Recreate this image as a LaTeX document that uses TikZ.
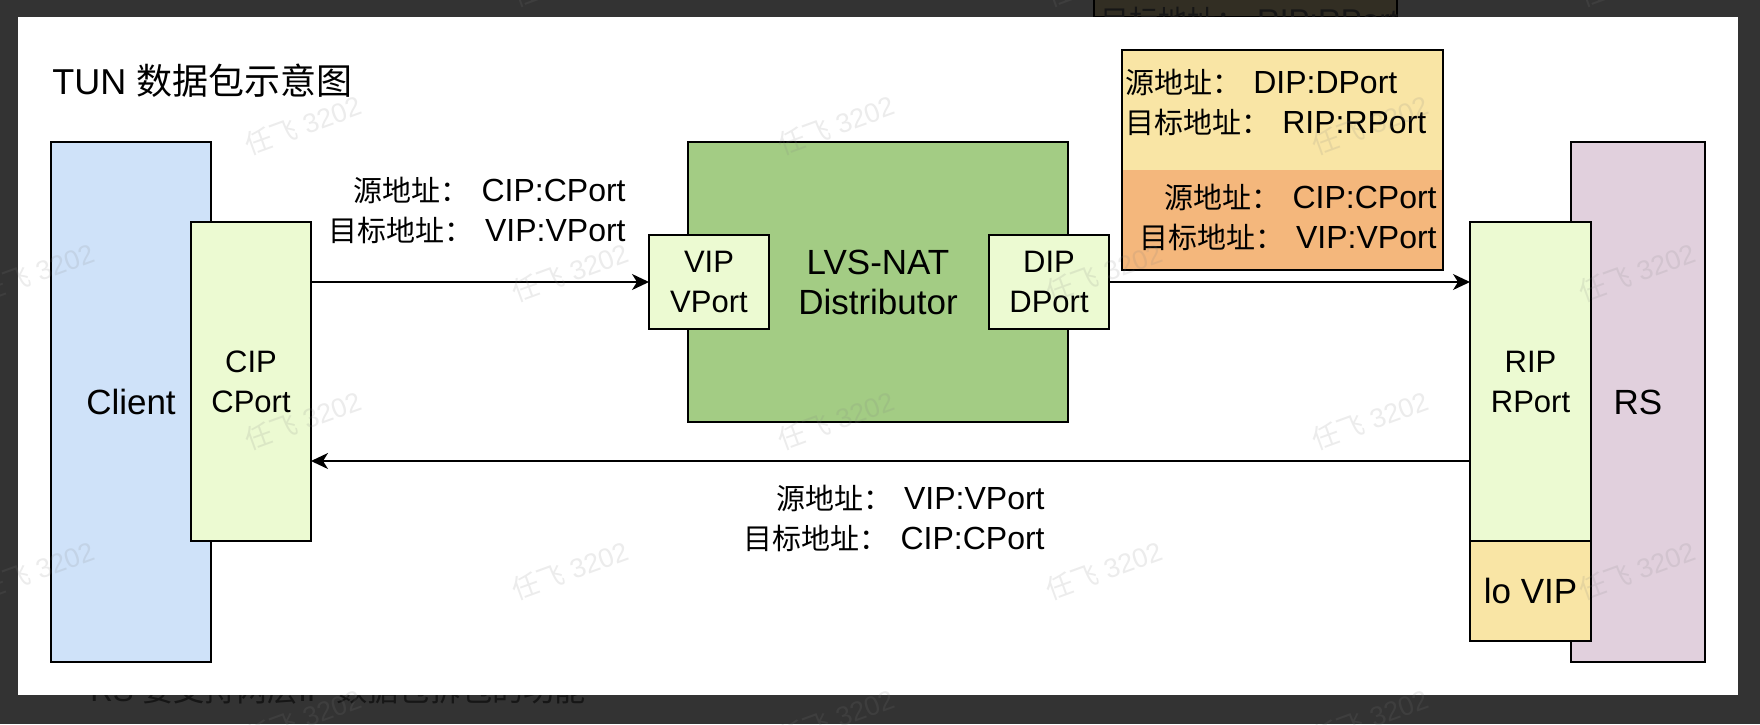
\documentclass[tikz,border=0pt]{standalone}
\usepackage{fontspec}
\setmainfont{Liberation Sans}
\newfontfamily\cjkfont{Noto Sans CJK SC}
\newcommand{\zh}[1]{{\cjkfont #1}}
\newcommand{\za}[1]{{\cjkfont\fontsize{14.5pt}{20pt}\selectfont #1}\hspace{1.5pt}}
\usetikzlibrary{arrows.meta}

\definecolor{clientblue}{RGB}{207,226,249}
\definecolor{portgreen}{RGB}{236,250,210}
\definecolor{lvsgreen}{RGB}{163,204,132}
\definecolor{rspurple}{RGB}{225,208,221}
\definecolor{hdryellow}{RGB}{249,229,165}
\definecolor{hdrorange}{RGB}{244,183,124}
\definecolor{darkframe}{RGB}{51,51,51}
\definecolor{dimyellow}{RGB}{50,46,35}
\definecolor{dimtext}{RGB}{22,22,22}

\begin{document}
\begin{tikzpicture}[
  x=0.5pt,y=-0.5pt,
  box/.style={draw=black, line width=1.1pt, inner sep=0pt, outer sep=0pt,
              align=center, font=\fontsize{17.5pt}{20pt}\selectfont},
  host/.style={box, fill=clientblue},
  iface/.style={box, fill=portgreen, minimum width=60pt,
                font=\fontsize{15.5pt}{20pt}\selectfont},
  dist/.style={box, fill=lvsgreen},
  server/.style={box, fill=rspurple},
  loif/.style={box, fill=hdryellow},
  flow/.style={-{Stealth[length=8.5pt,width=8pt,inset=2.5pt]}, line width=0.85pt},
  addr/.style={inner sep=0pt, font=\fontsize{16pt}{20pt}\selectfont},
  ghost/.style={inner sep=0pt, text=dimtext},
  wmark/.style={inner sep=0pt, rotate=20, text=gray, text opacity=0.15,
                font=\fontsize{13.5pt}{14pt}\selectfont}
]
  % screenshot frame
  \useasboundingbox (0,0) rectangle (1760,724);
  \fill[darkframe] (0,0) rectangle (1760,724);
  \node[draw=black, line width=1.1pt, fill=dimyellow, outer sep=0pt,
        minimum width=151.5pt, minimum height=20pt] (ghostbox) at (1245.5,-3) {};
  \node[ghost, anchor=base west, font=\fontsize{15.7pt}{20pt}\selectfont]
    (ghosttop) at (1100,31) {\za{目标地址：} RIP:RPort};
  \node[ghost, anchor=base west, font=\fontsize{15.6pt}{18pt}\selectfont]
    (bullet) at (56,701) {•};
  \node[ghost, anchor=base west, font=\fontsize{15.6pt}{18pt}\selectfont]
    (ghostbottom) at (90,701) {RS \zh{要支持两层}IP \zh{数据包拆包的功能}};
  \fill[white] (18,17) rectangle (1738,695);

  \node[anchor=base west, inner sep=0pt, font=\fontsize{18pt}{20pt}\selectfont]
    (title) at (52,94) {TUN \zh{数据包示意图}};

  % client side
  \node[host, minimum width=80pt, minimum height=260pt] (client) at (131,402) {Client};
  \node[iface, minimum height=159.5pt] (cip) at (251,381.5) {CIP\\CPort};

  % director
  \node[dist, minimum width=190pt, minimum height=140pt] (lvs) at (878,282)
    {LVS-NAT\\Distributor};
  \node[iface, minimum height=47pt] (vip) at (709,282) {VIP\\VPort};
  \node[iface, minimum height=47pt] (dip) at (1049,282) {DIP\\DPort};

  % real server
  \node[server, minimum width=67pt, minimum height=260pt] (rs) at (1638,402) {RS};
  \node[iface, minimum width=60.5pt, minimum height=159.5pt] (rip) at (1530.5,381.5)
    {RIP\\RPort};
  \node[loif, minimum width=60.5pt, minimum height=50pt] (lovip) at (1530.5,591) {lo VIP};

  % tunnel header
  \node[box, fill=hdryellow, minimum width=160.5pt, minimum height=110pt]
    (outerhdr) at (1282.5,160) {};
  \node[inner sep=0pt, outer sep=0pt, fill=hdrorange, minimum width=160.5pt,
        minimum height=50pt] (innerhdr) at (1282.5,220) {};
  \draw[line width=1.1pt] (outerhdr.south west) rectangle (outerhdr.north east);
  \node[addr, align=left, anchor=west] (outeraddr) at (1125,102)
    {\za{源地址：} DIP:DPort\\\za{目标地址：} RIP:RPort};
  \node[addr, align=right, anchor=east] (inneraddr) at (1437,217)
    {\za{源地址：} CIP:CPort\\\za{目标地址：} VIP:VPort};

  % packets
  \draw[flow] (cip.east |- vip.west) -- (vip.west);
  \draw[flow] (dip.east) -- (dip.east -| rip.west);
  \draw[flow] ([yshift=-39.75pt]rip.west) -- ([yshift=-39.75pt]cip.east);
  \node[addr, align=right, anchor=east] (reqaddr) at (626,210)
    {\za{源地址：} CIP:CPort\\\za{目标地址：} VIP:VPort};
  \node[addr, align=right, anchor=east] (respaddr) at (1045,518)
    {\za{源地址：} VIP:VPort\\\za{目标地址：} CIP:CPort};

  % watermark
  \foreach \wx/\wy [count=\i] in {570/-23,1104/-23,1637/-23,
      303/125,836/125,1370/125,
      36/272,570/272,1104/272,1637/272,
      303/420,836/420,1370/420,
      36/570,570/570,1104/570,1637/570,
      303/718,836/718,1370/718}
    \node[wmark] (wm\i) at (\wx,\wy) {\zh{任飞} 3202};
\end{tikzpicture}
\end{document}
